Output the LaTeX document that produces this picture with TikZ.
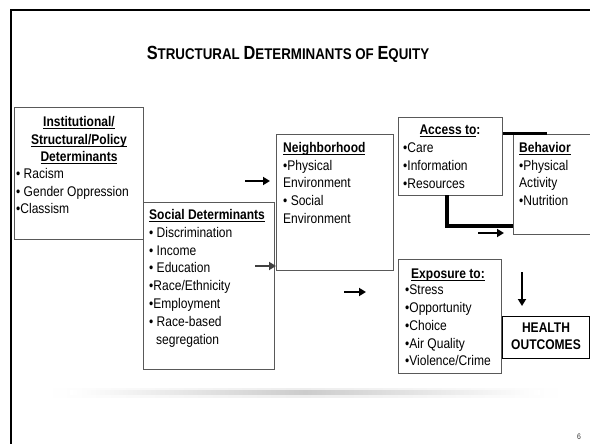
\documentclass[tikz,border=0pt]{standalone}
\usepackage{fontspec}
\setmainfont{Liberation Sans}[FakeStretch=0.86]
\usetikzlibrary{arrows.meta}
\newcommand\bodyfs{\fontsize{14}{17.7}\selectfont}
\newcommand\ulh[1]{\leavevmode\vphantom{A}\setbox0\hbox{#1}\rlap{\rule[-2.4pt]{\wd0}{0.9pt}}\box0}
\newcommand\tsc[2]{{\fontsize{19}{22}\selectfont #1}{\fontsize{15.5}{18}\selectfont #2}}
\begin{document}
\begin{tikzpicture}[x=1pt,y=-1pt,
  box/.style={draw=black!65, line width=0.8pt, inner sep=0pt, anchor=north west, fill=white},
  txt/.style={inner sep=0pt, anchor=north west, align=left, font=\bodyfs},
  arr/.style={line width=2.4pt, -{Triangle[length=7pt,width=8pt]}},
  heavy/.style={line width=3.4pt},
]
\fill[white] (0,0) rectangle (590,444);
\useasboundingbox (0,0) rectangle (590,444);

% slide frame
\draw[line width=2.2pt] (11,446) -- (11,10) -- (592,10);

% title
\node[inner sep=0pt, font=\bfseries\fontsize{15.5}{18}\selectfont] (title) at (288,54)
  {\tsc{S}{TRUCTURAL} \tsc{D}{ETERMINANTS} OF \tsc{E}{QUITY}};

% boxes
\node[box, minimum width=129pt, minimum height=132pt] (inst) at (14,107) {};
\node[box, minimum width=131pt, minimum height=167pt] (soc) at (143,202) {};
\node[box, minimum width=117pt, minimum height=136pt] (nbh) at (276,134) {};
\node[box, minimum width=104pt, minimum height=78pt] (acc) at (398,117) {};
\node[box, minimum width=85pt, minimum height=100pt] (beh) at (513,134) {};
\node[box, minimum width=103pt, minimum height=114pt] (exp) at (398,259) {};
\node[box, draw=black, line width=1.3pt, minimum width=87pt, minimum height=42pt] (hlth) at (502,316) {};

% texts
\node[txt, anchor=north, align=center, font=\bodyfs\bfseries] (insth) at (79,116)
  {\ulh{Institutional/}\\\ulh{Structural/Policy}\\\ulh{Determinants}};
\node[txt] (instb) at (16,168) {• Racism\\• Gender Oppression\\•Classism};

\node[txt, font=\fontsize{14}{17.85}\selectfont] (soct) at (149,209)
  {\textbf{\ulh{Social Determinants}}\\• Discrimination\\• Income\\• Education\\•Race/Ethnicity\\•Employment\\• Race-based\\\hspace*{7pt}segregation};

\node[txt] (nbht) at (283,142)
  {\textbf{\ulh{Neighborhood}}\\•Physical\\Environment\\• Social\\Environment};

\node[txt, anchor=north, font=\bodyfs\bfseries] (acch) at (450,125) {\ulh{Access to}:};
\node[txt] (accb) at (403,143) {•Care\\•Information\\•Resources};

\node[txt] (beht) at (519,142)
  {\textbf{\ulh{Behavior}}\\•Physical\\Activity\\•Nutrition};

\node[txt, anchor=north, font=\bodyfs\bfseries] (exph) at (448,269) {\ulh{Exposure to:}};
\node[txt] (expb) at (405,285)
  {•Stress\\•Opportunity\\•Choice\\•Air Quality\\•Violence/Crime};

\node[txt, anchor=north, align=center, font=\fontsize{14}{17}\selectfont\bfseries] (hlt) at (546,323)
  {HEALTH\\OUTCOMES};

% connectors
\coordinate (a1s) at (245,181); \coordinate (a1e) at (270,181);
\draw[arr] (a1s) -- (a1e);
\coordinate (a2s) at (255,266);
\draw[arr, black!75] (a2s) -- (a2s -| nbh.west);
\coordinate (a3s) at (344,292); \coordinate (a3e) at (366,292);
\draw[arr] (a3s) -- (a3e);
\coordinate (a4s) at (478,233); \coordinate (a4e) at (504,233);
\draw[arr] (a4s) -- (a4e);
\coordinate (a5s) at (522,272); \coordinate (a5e) at (522,306);
\draw[arr, line width=2pt] (a5s) -- (a5e);

\coordinate (e1) at (447,195); \coordinate (e2) at (513,226);
\draw[heavy] (e1) -- (e1 |- e2) -- (e2);
\coordinate (t2) at (547,134);
\draw[line width=3pt] (acc.east |- beh.north) -- (t2);

% fading rule
\shade[left color=white, right color=white, middle color=black!7] (45,388) rectangle (565,397);
\shade[left color=white, right color=white, middle color=black!20] (70,390.5) rectangle (540,394.5);

% page number
\node[inner sep=0pt, font=\fontsize{8}{9}\selectfont, text=black!80] (pg) at (579,437) {6};
\end{tikzpicture}
\end{document}
